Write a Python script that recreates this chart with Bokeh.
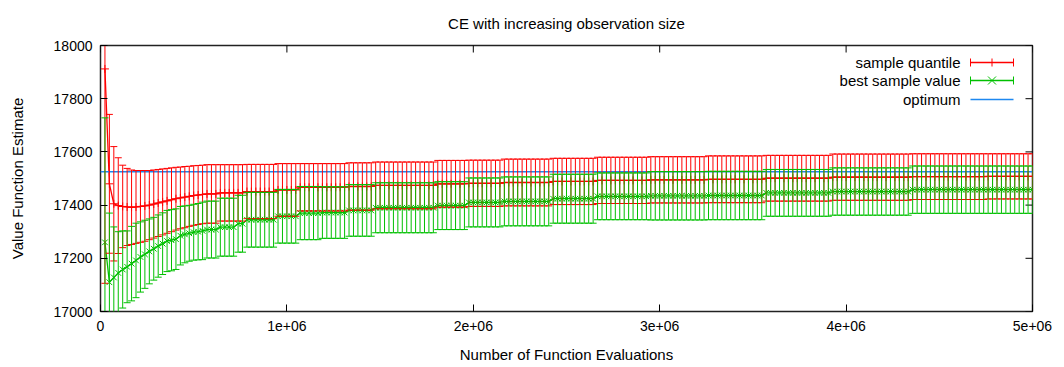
import math
from bokeh.plotting import figure
from bokeh.models import (Whisker, TeeHead, ColumnDataSource, FixedTicker,
                          Range1d, Label, Arrow)
from bokeh.embed import file_html
from bokeh.resources import INLINE

# ---------------- data ----------------
n_points = 210
evaluations = [round(i * 5e6 / n_points) for i in range(1, n_points + 1)]

quantile_mean = ([17912, 17480, 17405, 17398, 17395, 17393, 17392, 17393, 17395, 17397,
                  17400, 17404, 17408, 17412, 17416, 17420, 17424, 17427, 17430, 17433,
                  17436, 17438, 17440]
                 + [17442] * 3 + [17446] * 6 + [17451] * 7 + [17457] * 5 + [17467] * 11
                 + [17470] * 6 + [17474] * 14 + [17480] * 7 + [17482] * 8 + [17485] * 11
                 + [17489] * 10 + [17493] * 12 + [17495] * 13 + [17497] * 13 + [17501] * 15
                 + [17505] * 18 + [17507] * 17 + [17508] * 11)
quantile_err = ([806, 261, 215, 180, 155, 145, 140, 137, 135, 133, 130, 128, 126, 124, 122,
                 120, 118, 116, 115, 113, 112, 111, 110]
                + [110] * 3 + [106] * 6 + [102] * 7 + [99] * 5 + [89] * 11
                + [89] * 6 + [88] * 14 + [88] * 7 + [87] * 8 + [88] * 11
                + [87] * 10 + [87] * 12 + [87] * 13 + [88] * 13 + [86] * 15
                + [87] * 18 + [86] * 17 + [85] * 11)

best_mean = ([17260, 17110, 17128, 17145, 17158, 17168, 17180, 17192, 17205, 17215, 17226,
              17236, 17246, 17255, 17265, 17268, 17272, 17285, 17290, 17294, 17298, 17300,
              17303]
             + [17308] * 3 + [17317] * 4 + [17330] * 2 + [17345] * 7 + [17358] * 5
             + [17370] * 5 + [17372] * 6 + [17380] * 6 + [17390] * 14 + [17398] * 7
             + [17410] * 8 + [17414] * 11 + [17424] * 10 + [17433] * 12 + [17435] * 13
             + [17436] * 13 + [17446] * 15 + [17451] * 18 + [17458] * 28)
best_err = ([468, 260, 190, 155, 145, 135, 140, 140, 132, 128, 122, 118, 117, 116, 115, 115,
             114, 110, 107, 105, 105, 106, 108]
            + [107] * 3 + [109] * 4 + [107] * 2 + [103] * 7 + [101] * 5
            + [100] * 5 + [97] * 6 + [97] * 6 + [94] * 14 + [90] * 7
            + [92] * 8 + [92] * 11 + [92] * 10 + [88] * 12 + [91] * 13
            + [91] * 13 + [88] * 15 + [89] * 18 + [89] * 28)

optimum = 17525

chart_title = "CE with increasing observation size"
series_names = ["sample quantile", "best sample value", "optimum"]
x_ticks = [0, 1000000, 2000000, 3000000, 4000000, 5000000]
x_tick_labels = ["0", "1e+06", "2e+06", "3e+06", "4e+06", "5e+06"]
y_ticks = [17000, 17200, 17400, 17600, 17800, 18000]
x_limits = [0, 5000000]
y_limits = [17000, 18000]

assert len(quantile_mean) == len(quantile_err) == len(best_mean) == len(best_err) == n_points

# ---------------- figure ----------------
RED = "#ff0000"
GREEN = "#00c000"
BLUE = "#1e88f0"
FONT = "Liberation Sans"
FRAME_W, FRAME_H = 932, 266

p = figure(frame_width=FRAME_W, frame_height=FRAME_H,
           x_range=Range1d(*x_limits), y_range=Range1d(*y_limits),
           output_backend="svg", toolbar_location=None, title=chart_title)
p.min_border_left = 100
p.min_border_right = 32
p.min_border_top = 45
p.min_border_bottom = 56
p.background_fill_color = "white"
p.border_fill_color = "white"
p.outline_line_color = "#222222"
p.outline_line_width = 1.5
p.grid.visible = False

p.title.align = "center"
p.title.vertical_align = "top"
p.title.standoff = 24
p.title.text_font = FONT
p.title.text_font_size = "15px"
p.title.text_font_style = "normal"
p.title.text_color = "black"

def style_axis(ax, ticks):
    ax.ticker = FixedTicker(ticks=ticks)
    ax.major_tick_in = 7
    ax.major_tick_out = 0
    ax.minor_tick_in = 0
    ax.minor_tick_out = 0
    ax.axis_line_color = None
    ax.major_tick_line_color = "black"
    ax.major_label_text_font = FONT
    ax.major_label_text_font_size = "14px"
    ax.major_label_text_color = "black"
    ax.axis_label_text_font = FONT
    ax.axis_label_text_font_size = "15px"
    ax.axis_label_text_font_style = "normal"
    ax.axis_label_text_color = "black"

style_axis(p.xaxis[0], x_ticks)
p.xaxis[0].major_label_overrides = {t: l for t, l in zip(x_ticks, x_tick_labels)}
p.xaxis[0].major_label_standoff = 9
p.xaxis[0].axis_label = "Number of Function Evaluations"
p.xaxis[0].axis_label_standoff = 12

style_axis(p.yaxis[0], y_ticks)
p.yaxis[0].major_label_standoff = 8
p.yaxis[0].axis_label = "Value Function Estimate"
p.yaxis[0].axis_label_standoff = 25

# mirrored inward ticks on the top and right edges (clipped to the frame)
p.scatter([x_limits[1]] * len(y_ticks), y_ticks, marker="dash", size=14,
          line_color="black", line_width=1)
p.scatter(x_ticks, [y_limits[1]] * len(x_ticks), marker="dash", size=14,
          angle=math.pi / 2, line_color="black", line_width=1)

src = ColumnDataSource(data=dict(
    x=evaluations,
    q=quantile_mean,
    q_up=[m + e for m, e in zip(quantile_mean, quantile_err)],
    q_lo=[m - e for m, e in zip(quantile_mean, quantile_err)],
    b=best_mean,
    b_up=[m + e for m, e in zip(best_mean, best_err)],
    b_lo=[m - e for m, e in zip(best_mean, best_err)],
))

q_whisk = Whisker(source=src, base="x", upper="q_up", lower="q_lo",
                  line_color=RED, line_width=1, level="glyph",
                  upper_head=TeeHead(size=7, line_color=RED, line_width=1),
                  lower_head=TeeHead(size=7, line_color=RED, line_width=1))
p.add_layout(q_whisk)
p.line("x", "q", source=src, line_color=RED, line_width=1.3)
p.scatter("x", "q", source=src, marker="cross", size=8, line_color=RED, line_width=1)

b_whisk = Whisker(source=src, base="x", upper="b_up", lower="b_lo",
                  line_color=GREEN, line_width=1, level="glyph",
                  upper_head=TeeHead(size=7, line_color=GREEN, line_width=1),
                  lower_head=TeeHead(size=7, line_color=GREEN, line_width=1))
p.add_layout(b_whisk)
p.line("x", "b", source=src, line_color=GREEN, line_width=1.3)
p.scatter("x", "b", source=src, marker="x", size=8, line_color=GREEN, line_width=1)

p.line(x_limits, [optimum, optimum], line_color=BLUE, line_width=1.5)

# ---------------- gnuplot-style key (screen units, relative to the frame) ----------------
key_text_right = 860          # right edge of key texts
key_sample = (870, 913)       # sample line extent
key_rows = [249, 231, 212]    # row centres
key_colors = [RED, GREEN, BLUE]

for name, row in zip(series_names, key_rows):
    p.add_layout(Label(x=key_text_right, y=row, x_units="screen", y_units="screen",
                       text=name, text_align="right", text_baseline="middle",
                       text_font=FONT, text_font_size="15px", text_color="black"))

for k, (row, col) in enumerate(zip(key_rows, key_colors)):
    heads = dict(start=TeeHead(size=8, line_color=col, line_width=1),
                 end=TeeHead(size=8, line_color=col, line_width=1)) if k < 2 else dict(start=None, end=None)
    p.add_layout(Arrow(x_start=key_sample[0], y_start=row, x_end=key_sample[1], y_end=row,
                       start_units="screen", end_units="screen",
                       line_color=col, line_width=1.3, **heads))

mid = (key_sample[0] + key_sample[1]) / 2
# "+" point symbol of the first series
p.add_layout(Arrow(x_start=mid, y_start=key_rows[0] - 4, x_end=mid, y_end=key_rows[0] + 4,
                   start_units="screen", end_units="screen", start=None, end=None,
                   line_color=RED, line_width=1))
# "x" point symbol of the second series
for d in (1, -1):
    p.add_layout(Arrow(x_start=mid - 4, y_start=key_rows[1] - 4 * d,
                       x_end=mid + 4, y_end=key_rows[1] + 4 * d,
                       start_units="screen", end_units="screen", start=None, end=None,
                       line_color=GREEN, line_width=1))

open("out.html", "w").write(file_html(p, INLINE))
